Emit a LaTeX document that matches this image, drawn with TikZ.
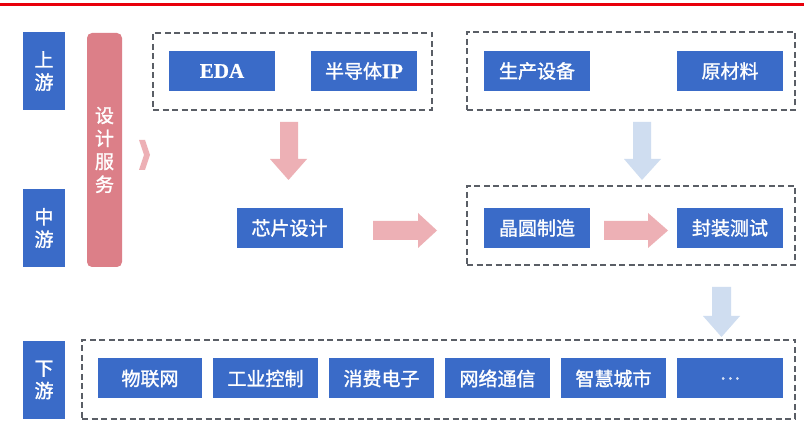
\documentclass[tikz,border=0pt]{standalone}
\usepackage{fontspec}
\setmainfont{Liberation Serif}
\newfontfamily\cjk[FakeBold=1.4]{Noto Sans CJK SC}
\newfontfamily\serifb[FakeBold=0.6]{Liberation Serif Bold}
\usetikzlibrary{positioning}
\definecolor{bluebox}{HTML}{3A6BC8}
\definecolor{pinkbox}{HTML}{DC7F88}
\definecolor{pinkarrow}{HTML}{EDB0B5}
\definecolor{bluearrow}{HTML}{CFDDF0}
\definecolor{dashgray}{HTML}{5A5E66}
\definecolor{topred}{HTML}{E8000B}
\tikzset{
  bbox/.style={fill=bluebox, draw=none, text=white, minimum width=106pt, minimum height=40pt, inner sep=0pt, font=\cjk\fontsize{19}{21}\selectfont},
  sidebox/.style={fill=bluebox, draw=none, text=white, minimum width=42pt, inner sep=0pt, font=\cjk\fontsize{19}{22.5}\selectfont, align=center},
  groupbox/.style={draw=dashgray, line width=1.4pt, dash pattern=on 6pt off 3.5pt},
  pinkfill/.style={fill=pinkarrow, draw=none},
  bluefill/.style={fill=bluearrow, draw=none},
}
\begin{document}
\begin{tikzpicture}[x=1pt,y=-1pt]
\useasboundingbox (0,0) rectangle (804,427);
\fill[white] (0,0) rectangle (804,427);
% top red line
\draw[topred, line width=3pt] (0,4.5) -- (804,4.5);

% side labels
\node[sidebox, minimum height=78pt] (up) at (44,71) {上\\游};
\node[sidebox, minimum height=78pt] (mid) at (44,228) {中\\游};
\node[sidebox, minimum height=78pt] (down) at (44,380) {下\\游};

% design service
\node[fill=pinkbox, rounded corners=5pt, minimum width=35pt, minimum height=234pt, inner sep=0pt, text=white, align=center, font=\cjk\fontsize{19}{23}\selectfont] (svc) at (104.5,150) {设\\计\\服\\务};
\fill[pinkarrow] (139,140) -- (145,140) -- (150,155) -- (145,170) -- (139,170) -- (144,155) -- cycle;

% upstream groups
\node[groupbox, minimum width=279pt, minimum height=77pt, inner sep=0pt] (g1) at (292.5,71.5) {};
\node[bbox, font=\serifb\fontsize{21}{23}\selectfont] (eda) at (222,71) {EDA};
\node[bbox] (ip) at (364,71) {半导体{\serifb\fontsize{21}{23}\selectfont IP}};

\node[groupbox, minimum width=328pt, minimum height=78pt, inner sep=0pt] (g2) at (631,71) {};
\node[bbox] (equip) at (537,71) {生产设备};
\node[bbox] (mat) at (730,71) {原材料};

% midstream
\node[bbox] (chip) at (289.5,228) {芯片设计};
\node[groupbox, minimum width=328pt, minimum height=79pt, inner sep=0pt] (g3) at (631,225.5) {};
\node[bbox] (wafer) at (537,228) {晶圆制造};
\node[bbox] (pack) at (730,228) {封装测试};

% downstream
\node[groupbox, minimum width=713pt, minimum height=79pt, inner sep=0pt] (g4) at (438.5,379.5) {};
\node[bbox, minimum width=104pt] (iot) at (150,378.5) {物联网};
\node[bbox, minimum width=105pt] (ind) at (265.5,378.5) {工业控制};
\node[bbox, minimum width=105pt] (cons) at (381.5,378.5) {消费电子};
\node[bbox, minimum width=105pt] (net) at (497.5,378.5) {网络通信};
\node[bbox, minimum width=105pt] (city) at (613.5,378.5) {智慧城市};
\node[bbox, minimum width=106pt, text=white!80!bluebox] (more) at (730,378.5) {…};

% block arrows
\fill[pinkfill] (280,122) -- (298,122) -- (298,159) -- (307,159) -- (288.5,180) -- (270,159) -- (280,159) -- cycle;
\fill[bluefill] (633,122) -- (651,122) -- (651,159) -- (661,159) -- (642,180) -- (624,159) -- (633,159) -- cycle;
\fill[pinkfill] (373,221) -- (418,221) -- (418,213) -- (437,230.5) -- (418,248) -- (418,240) -- (373,240) -- cycle;
\fill[pinkfill] (604,221) -- (648,221) -- (648,213) -- (668,230.5) -- (648,248) -- (648,240) -- (604,240) -- cycle;
\fill[bluefill] (712,287) -- (731,287) -- (731,316) -- (740,316) -- (721.5,337) -- (703,316) -- (712,316) -- cycle;
\end{tikzpicture}
\end{document}
